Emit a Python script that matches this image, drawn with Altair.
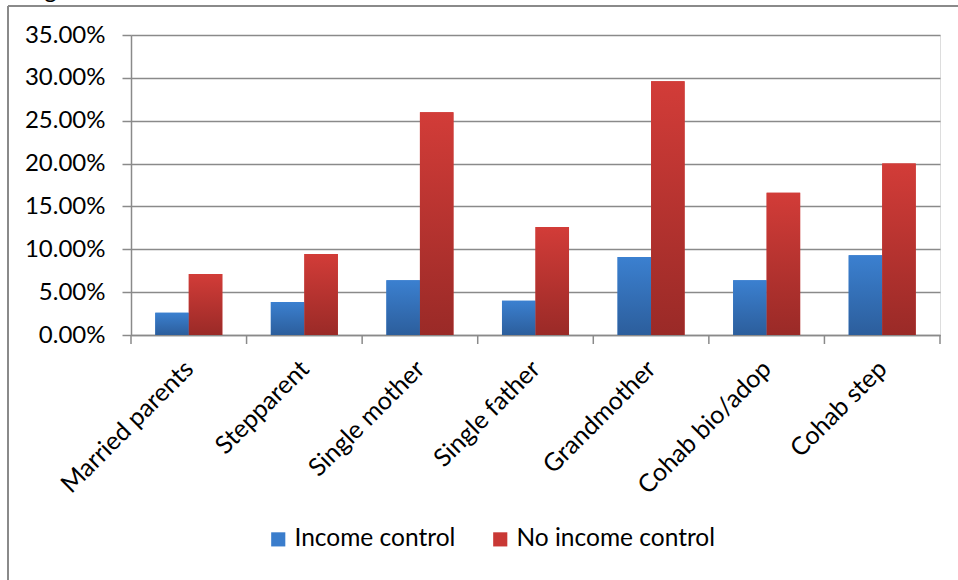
import altair as alt
import pandas as pd

categories = ["Married parents", "Stepparent", "Single mother", "Single father",
              "Grandmother", "Cohab bio/adop", "Cohab step"]
series = ["Income control", "No income control"]
income_control = [0.0260, 0.0385, 0.0640, 0.0400, 0.0910, 0.0640, 0.0930]
no_income_control = [0.0712, 0.0945, 0.2600, 0.1260, 0.2960, 0.1660, 0.2000]
y_ticks = [0.0, 0.05, 0.10, 0.15, 0.20, 0.25, 0.30, 0.35]
series_colors = ["#3a7dcc", "#c93835"]

rows = []
for c, a, b in zip(categories, income_control, no_income_control):
    rows.append({"category": c, "series": series[0], "value": a})
    rows.append({"category": c, "series": series[1], "value": b})
df = pd.DataFrame(rows)

W, H = 809, 300
FONT = "Lato"
GRAY = "#8a8a8a"
P_IN, P_OUT = 0.42, 0.21
STEP = W / (len(categories) - P_IN + 2 * P_OUT)
HALF_GAP = P_OUT * STEP  # distance from band start back to the step boundary

blue_grad = {"gradient": "linear", "x1": 0, "y1": 0, "x2": 0, "y2": 1,
             "stops": [{"offset": 0, "color": "#3b80d0"}, {"offset": 1, "color": "#2c5e9c"}]}
red_grad = {"gradient": "linear", "x1": 0, "y1": 0, "x2": 0, "y2": 1,
            "stops": [{"offset": 0, "color": "#d23c38"}, {"offset": 1, "color": "#9a2a27"}]}

x_enc = alt.X("category:N", sort=categories,
              scale=alt.Scale(paddingInner=P_IN, paddingOuter=P_OUT),
              axis=alt.Axis(title=None, labelAngle=-45, labelAlign="right",
                            labelBaseline="top", labelPadding=12, labelOffset=-8,
                            tickSize=9, tickOpacity=0,
                            domainColor=GRAY, domainWidth=1.5,
                            labelFont=FONT, labelFontSize=25, labelColor="black",
                            labelOverlap=False, labelLimit=0))
y_enc = alt.Y("value:Q", scale=alt.Scale(domain=[0, 0.35], nice=False),
              axis=alt.Axis(title=None, values=y_ticks, format=".2%",
                            tickSize=9, tickColor=GRAY, tickWidth=1.5,
                            domainColor=GRAY, domainWidth=1.5,
                            gridColor=GRAY, gridWidth=1.5, grid=True,
                            labelPadding=17, labelFont=FONT, labelFontSize=24,
                            labelColor="black"))
xo = alt.XOffset("series:N", sort=series)

base = alt.Chart(df).mark_bar().encode(
    x=x_enc, y=y_enc, xOffset=xo,
    color=alt.Color("series:N", sort=series,
                    scale=alt.Scale(domain=series, range=series_colors),
                    legend=alt.Legend(title=None, orient="none", direction="horizontal",
                                      legendX=135, legendY=492, symbolType="square",
                                      symbolSize=200, symbolStrokeWidth=0,
                                      labelFont=FONT, labelFontSize=24.5, labelColor="black",
                                      columnPadding=32, labelOffset=4, labelLimit=0)),
)

blue = alt.Chart(df).transform_filter(alt.datum.series == series[0]).mark_bar().encode(
    x=alt.X("category:N", sort=categories), y="value:Q", xOffset=xo,
    fill=alt.value(blue_grad))
red = alt.Chart(df).transform_filter(alt.datum.series == series[1]).mark_bar().encode(
    x=alt.X("category:N", sort=categories), y="value:Q", xOffset=xo,
    fill=alt.value(red_grad))

# category-axis ticks sit between the groups (Excel style)
ticks = alt.Chart(df).transform_filter(alt.datum.series == series[0]).mark_rule(
    color=GRAY, strokeWidth=1.5, xOffset=-HALF_GAP).encode(
    x=alt.X("category:N", sort=categories, bandPosition=0),
    y=alt.value(H), y2=alt.value(H + 9))

deco = pd.DataFrame({"a": [0]})
end_tick = alt.Chart(deco).mark_rule(color=GRAY, strokeWidth=1.5).encode(
    x=alt.value(W), y=alt.value(H), y2=alt.value(H + 9))
top_line = alt.Chart(deco).mark_rule(color=GRAY, strokeWidth=2).encode(
    x=alt.value(-123), x2=alt.value(827), y=alt.value(-29))
left_line = alt.Chart(deco).mark_rule(color=GRAY, strokeWidth=2).encode(
    x=alt.value(-123), y=alt.value(-29), y2=alt.value(545))
caption = alt.Chart(deco).mark_text(align="left", baseline="alphabetic", font=FONT,
                                    fontSize=24, color="black").encode(
    x=alt.value(-106), y=alt.value(-37), text=alt.value("Figure"))

chart = alt.layer(base, blue, red, ticks, end_tick, top_line, left_line, caption).properties(
    width=W, height=H,
    autosize=alt.AutoSizeParams(type="none"),
    padding={"left": 131, "top": 35, "right": 18, "bottom": 245},
).configure_view(stroke=None).configure(background="white")

chart.save("out.html", embed_options={"renderer": "svg", "actions": False})
